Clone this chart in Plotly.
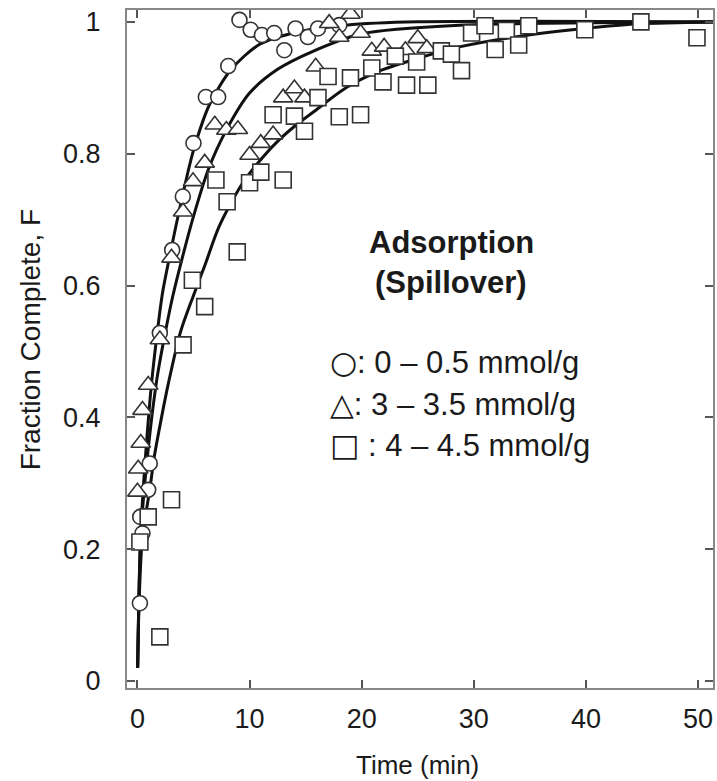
import plotly.graph_objects as go

# Measured uptake data: time (min) and fraction complete F
circle_t = [0.22, 0.45, 0.25, 0.96, 1.1, 2.0, 3.1, 4.05, 5.0, 6.1, 7.2, 8.1, 9.1,
            10.1, 11.1, 12.2, 13.1, 14.1, 15.2, 16.1, 18.0]
circle_f = [0.118, 0.224, 0.249, 0.29, 0.33, 0.528, 0.654, 0.735, 0.816, 0.886, 0.886,
            0.933, 1.003, 0.988, 0.98, 0.983, 0.957, 0.99, 0.977, 0.99, 0.995]

tri_t = [0.0, 0.07, 0.3, 0.45, 0.96, 2.0, 3.04, 4.07, 4.96, 6.0, 6.9, 7.93, 8.96,
         10.0, 11.0, 12.1, 13.0, 14.0, 14.9, 15.9, 17.1, 18.0, 19.0, 19.9, 20.9,
         22.0, 23.9, 25.0, 25.8]
tri_f = [0.287, 0.322, 0.361, 0.411, 0.449, 0.518, 0.642, 0.712, 0.758, 0.786, 0.844,
         0.836, 0.837, 0.798, 0.816, 0.829, 0.885, 0.899, 0.885, 0.932, 0.998, 0.977,
         1.012, 0.983, 0.956, 0.962, 0.957, 0.975, 0.96]

sq_t = [0.22, 0.96, 2.0, 3.04, 4.07, 4.9, 6.0, 7.0, 8.0, 8.9, 10.0, 11.0, 12.1, 13.0,
        14.0, 14.9, 16.1, 17.0, 18.0, 19.0, 19.9, 20.9, 21.9, 23.0, 24.0, 24.9, 25.9,
        27.1, 28.0, 28.9, 29.8, 31.0, 31.9, 32.9, 34.0, 34.9, 39.9, 44.9, 49.9]
sq_f = [0.211, 0.249, 0.067, 0.275, 0.51, 0.608, 0.568, 0.76, 0.727, 0.651, 0.756,
        0.772, 0.859, 0.76, 0.857, 0.834, 0.885, 0.917, 0.856, 0.915, 0.859, 0.93,
        0.909, 0.948, 0.904, 0.939, 0.904, 0.956, 0.951, 0.926, 0.983, 0.994, 0.958,
        0.987, 0.965, 0.994, 0.988, 1.0, 0.976]

# Fitted uptake curves
fit1_t = [0.02, 0.12, 0.28, 0.55, 0.85, 1.25, 1.8, 2.24, 3.04, 4.07, 5.0, 6.44, 8.37,
          10.9, 14.4, 18.6, 25.0, 52.0]
fit1_f = [0.02, 0.12, 0.22, 0.30, 0.37, 0.45, 0.533, 0.589, 0.658, 0.74, 0.805, 0.875,
          0.928, 0.966, 0.985, 0.995, 1.0, 1.0]

fit2_t = [0.02, 0.12, 0.3, 0.6, 0.95, 1.35, 1.8, 2.5, 3.1, 4.0, 5.0, 6.3, 7.9, 10.0,
          12.5, 15.6, 20.0, 28.7, 52.0]
fit2_f = [0.02, 0.12, 0.22, 0.29, 0.35, 0.41, 0.465, 0.53, 0.58, 0.642, 0.705, 0.775,
          0.835, 0.892, 0.928, 0.955, 0.982, 0.995, 1.0]

fit3_t = [0.02, 0.15, 0.45, 1.1, 1.5, 2.15, 2.74, 3.85, 5.0, 6.0, 7.3, 9.4, 11.2, 12.7,
          14.4, 15.6, 18.6, 21.5, 24.5, 28.7, 34.0, 39.9, 44.7, 52.0]
fit3_f = [0.02, 0.12, 0.22, 0.29, 0.34, 0.40, 0.45, 0.53, 0.585, 0.63, 0.69, 0.756,
          0.795, 0.822, 0.847, 0.862, 0.90, 0.925, 0.942, 0.962, 0.978, 0.99, 0.997, 1.0]

x_ticks = [0, 10, 20, 30, 40, 50]
y_ticks = [0, 0.2, 0.4, 0.6, 0.8, 1.0]
y_tick_text = ["0", "0.2", "0.4", "0.6", "0.8", "1"]

legend_symbols = ["○", "△", "□"]
legend_labels = [": 0 – 0.5 mmol/g", ": 3 – 3.5 mmol/g", " : 4 – 4.5 mmol/g"]

FONT = "Liberation Sans, Arial, sans-serif"
SYMBOL_FONT = "DejaVu Sans"
INK = "#1a1a1a"
EDGE = "#333333"

fig = go.Figure()

for ft, ff in [(fit1_t, fit1_f), (fit2_t, fit2_f), (fit3_t, fit3_f)]:
    fig.add_trace(go.Scatter(x=ft, y=ff, mode="lines",
                             line=dict(color="#111111", width=3, shape="spline", smoothing=0.8),
                             hoverinfo="skip", showlegend=False))

def add_markers(xs, ys, symbol, size):
    fig.add_trace(go.Scatter(x=xs, y=ys, mode="markers", showlegend=False,
                             marker=dict(symbol=symbol, size=size, color="white",
                                         line=dict(color=EDGE, width=1.6))))

add_markers(circle_t, circle_f, "circle", 15)
add_markers(tri_t, tri_f, "triangle-up", 17)
add_markers(sq_t, sq_f, "square", 16)

# plot area in pixels
L, R, T, B = 127, 715, 10, 688
W, H = 717, 781

def px(xp):
    return (xp - L) / (R - L)

def py(yp):
    return (B - yp) / (B - T)

annotations = [
    dict(text="<b>Adsorption</b>", x=px(368), y=py(242), xanchor="left",
         font=dict(size=31)),
    dict(text="<b>(Spillover)</b>", x=px(374), y=py(282), xanchor="left",
         font=dict(size=31)),
]
for i, (sym, lab) in enumerate(zip(legend_symbols, legend_labels)):
    txt = (f'<span style="font-family:{SYMBOL_FONT};font-size:31px">{sym}</span>'
           f'{lab}')
    annotations.append(dict(text=txt, x=px(329), y=py(362 + 41.5 * i), xanchor="left",
                            font=dict(size=31)))
annotations.append(dict(text="Time (min)", x=px(418), y=py(765), font=dict(size=26)))
annotations.append(dict(text="Fraction Complete, F", x=px(30), y=py(340), textangle=-90,
                        font=dict(size=28)))
for a in annotations:
    a.setdefault("xanchor", "center")
    a.update(xref="paper", yref="paper", yanchor="middle", showarrow=False)
    a["font"].update(family=FONT, color=INK)

fig.update_layout(
    width=W, height=H,
    margin=dict(l=L, r=W - R, t=T, b=H - B),
    paper_bgcolor="white", plot_bgcolor="white",
    font=dict(family=FONT, color=INK, size=27),
    annotations=annotations,
)
fig.update_xaxes(range=[-0.93, 51.33], tickvals=x_ticks, ticks="inside", ticklen=8,
                 tickwidth=1.5, tickcolor="#555", showline=True, linecolor="#888",
                 linewidth=2, mirror="ticks", showgrid=False, zeroline=False,
                 tickfont=dict(size=27), ticklabelstandoff=6)
fig.update_yaxes(range=[-0.0106, 1.018], tickvals=y_ticks, ticktext=y_tick_text,
                 ticks="inside", ticklen=8, tickwidth=1.5, tickcolor="#555",
                 showline=True, linecolor="#888", linewidth=2, mirror="ticks",
                 showgrid=False, zeroline=False, tickfont=dict(size=27),
                 ticklabelstandoff=19)

fig.write_html("out.html")
